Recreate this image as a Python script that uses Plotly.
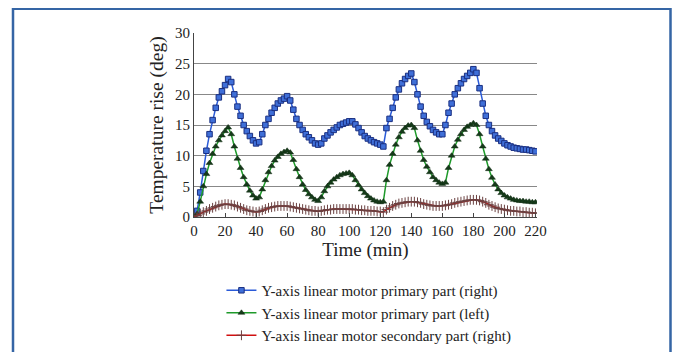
import plotly.graph_objects as go

time_min = list(range(0, 222, 2))

primary_right = [0, 1, 4, 7.5, 10.8, 13.5, 15.8, 17.8, 19.5, 20.5, 21.5, 22.5, 22, 20, 18, 16.5, 15, 14, 13.2, 12.5,
                 12, 12.2, 13.5, 15, 16, 17, 17.8, 18.5, 19, 19.3, 19.7, 19, 17.5, 16, 15, 14.2, 13.5, 13, 12.5, 12,
                 11.8, 12, 12.8, 13.3, 13.8, 14.2, 14.6, 15, 15.2, 15.4, 15.6, 15.6, 15.1, 14.5, 13.8, 13.2, 12.8, 12.5, 12.2, 12,
                 11.8, 11.5, 14.5, 16, 17.8, 19.5, 20.8, 21.8, 22.5, 23, 23.4, 22, 20, 18, 16.5, 15.5, 14.8, 14.2, 13.8, 13.5,
                 13.5, 15, 17, 18.5, 20, 21, 21.8, 22.5, 23, 23.5, 24.1, 23.5, 21, 18.5, 16.5, 15, 14, 13.3, 12.8, 12.4,
                 12, 11.7, 11.5, 11.3, 11.2, 11.1, 11, 11, 10.9, 10.8, 10.7]

primary_left = [0, 0.5, 2.5, 5, 7, 8.8, 10.3, 11.5, 12.5, 13.3, 14, 14.6, 13.5, 11.5, 9.5, 8, 6.5, 5.3, 4.3, 3.5,
                3, 3.2, 4.5, 6, 7.3, 8.3, 9.2, 9.8, 10.3, 10.6, 10.8, 10.5, 9.3, 7.8, 6.5, 5.3, 4.4, 3.7, 3.2, 2.8,
                2.6, 3.2, 4.2, 5, 5.6, 6.1, 6.5, 6.8, 7, 7.1, 7.2, 6.8, 6, 5.2, 4.5, 3.9, 3.4, 3, 2.7, 2.5,
                2.4, 2.5, 6, 8.5, 10.3, 11.8, 13, 13.9, 14.5, 14.9, 15, 14.5, 12.5, 10.8, 9.3, 8.2, 7.3, 6.5, 6, 5.6,
                5.4, 5.6, 8, 10, 11.5, 12.6, 13.5, 14.2, 14.7, 15, 15.3, 15, 13.5, 11.5, 9.5, 7.8, 6.4, 5.3, 4.5, 3.9,
                3.5, 3.2, 3, 2.8, 2.7, 2.6, 2.6, 2.5, 2.5, 2.4, 2.4]

secondary_right = [0, 0.2, 0.5, 0.8, 1, 1.3, 1.5, 1.7, 1.9, 2, 2.1, 2.1, 2, 1.9, 1.7, 1.5, 1.3, 1.1, 1, 0.9,
                   0.8, 0.9, 1.1, 1.3, 1.5, 1.6, 1.7, 1.8, 1.8, 1.8, 1.8, 1.7, 1.6, 1.5, 1.4, 1.3, 1.2, 1.1, 1.0, 1.0,
                   0.9, 1.0, 1.1, 1.2, 1.2, 1.3, 1.3, 1.3, 1.3, 1.3, 1.3, 1.3, 1.2, 1.2, 1.1, 1.1, 1.0, 1.0, 1.0, 0.9,
                   0.9, 0.8, 1.2, 1.5, 1.8, 2.0, 2.2, 2.3, 2.4, 2.5, 2.5, 2.5, 2.4, 2.3, 2.1, 2.0, 1.9, 1.8, 1.8, 1.8,
                   1.8, 1.9, 2.0, 2.1, 2.3, 2.4, 2.5, 2.6, 2.7, 2.8, 2.8, 2.8, 2.7, 2.5, 2.3, 2.0, 1.8, 1.6, 1.4, 1.3,
                   1.2, 1.1, 1.0, 1.0, 0.9, 0.9, 0.8, 0.8, 0.7, 0.7, 0.6]

names = ["Y-axis linear motor primary part (right)",
         "Y-axis linear motor primary part (left)",
         "Y-axis linear motor secondary part (right)"]

x_ticks = list(range(0, 240, 20))
y_ticks = list(range(0, 35, 5))

FONT = "Liberation Serif, Times New Roman, serif"

fig = go.Figure()
fig.add_trace(go.Scatter(x=time_min, y=primary_right, name=names[0], mode="lines+markers",
                         line=dict(color="#2A5AD8", width=1.5),
                         marker=dict(symbol="square", size=5.5, color="#3F6FD8",
                                     line=dict(color="#1A2F80", width=1))))
fig.add_trace(go.Scatter(x=time_min, y=primary_left, name=names[1], mode="lines+markers",
                         line=dict(color="#1E9A2A", width=1.5),
                         marker=dict(symbol="triangle-up", size=6, color="#163A1A",
                                     line=dict(color="#0F2A10", width=0.5))))
fig.add_trace(go.Scatter(x=time_min, y=secondary_right, name=names[2], mode="lines+markers",
                         line=dict(color="#D01010", width=1.5),
                         marker=dict(symbol="cross-thin", size=7, color="#555555",
                                     line=dict(color="#6A4040", width=1))))

# figure sized so that it fits inside the page with the 8px body margin (no scrollbars)
FW, FH = 664, 344
L, T, PW, PH = 186, 25, 343, 184

def px_to_paper_x(fx):
    return (fx - L) / PW

def px_to_paper_y(fy):
    return (T + PH - fy) / PH

bx0 = px_to_paper_x(5)
bx1 = px_to_paper_x(FW - 1.5)
by_top = px_to_paper_y(0.8)
by_bot = px_to_paper_y(FH + 10)

border_color = "#3565A5"
fig.add_shape(type="path", xref="paper", yref="paper",
              path=f"M {bx0},{by_bot} L {bx0},{by_top} L {bx1},{by_top} L {bx1},{by_bot}",
              line=dict(color=border_color, width=2.5), layer="above")

fig.update_layout(
    width=FW, height=FH,
    margin=dict(l=L, r=FW - L - PW, t=T, b=FH - T - PH, autoexpand=False),
    paper_bgcolor="white", plot_bgcolor="white",
    font=dict(family=FONT, color="#222222", size=15),
    showlegend=True,
    legend=dict(x=0.08, y=-0.31, xanchor="left", yanchor="top",
                font=dict(family=FONT, size=15, color="#222222"),
                bgcolor="rgba(0,0,0,0)", itemwidth=30, tracegroupgap=0),
    xaxis=dict(range=[0, 221], tickmode="array", tickvals=x_ticks,
               showgrid=False, zeroline=False, showline=True, linecolor="#444444", linewidth=1,
               ticks="inside", ticklen=4, tickcolor="#444444",
               tickfont=dict(family=FONT, size=15, color="#222222"),
               title=dict(text="Time (min)", font=dict(family=FONT, size=19, color="#222222"), standoff=3)),
    yaxis=dict(range=[0, 30], tickmode="array", tickvals=y_ticks,
               showgrid=True, gridcolor="#888888", gridwidth=1, zeroline=False,
               showline=True, linecolor="#444444", linewidth=1, ticks="",
               tickfont=dict(family=FONT, size=15, color="#222222"),
               title=dict(text="Temperature rise (deg)", font=dict(family=FONT, size=19.5, color="#222222"), standoff=6)),
)

fig.write_html("out.html")
